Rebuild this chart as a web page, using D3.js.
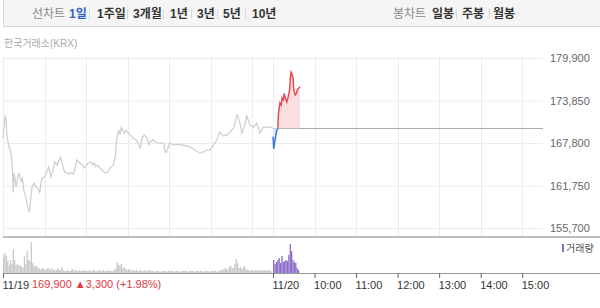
<!DOCTYPE html>
<html>
<head>
<meta charset="utf-8">
<script src="https://cdn.jsdelivr.net/npm/d3@7"></script>
<style>
  body { margin: 0; background: #fff; }
  svg { display: block; font-family: "Liberation Sans", "Noto Sans CJK KR", sans-serif; }
</style>
</head>
<body>
<div id="chart"></div>
<script>
// 가격 데이터 (분 단위 index: 11/19 09:00 = 0, 11/19 15:30 = 11/20 09:00 = 390)
var prevTimes = [0,3,4,6,9,11,13,15,16,19,21,23,26,28,30,33,35,38,40,42,45,47,50,53,56,60,63,66,69,72,75,78,80,83,86,89,92,95,98,102,
  105,107,111,115,117,121,123,127,130,132,134,137,140,143,147,151,155,159,162,164,167,169,171,175,178,181,184,188,192,195,198,
  201,204,208,211,212,217,222,227,232,234,236,241,246,251,260,270,277,285,289,294,299,304,309,313,318,323,328,333,338,340,342,
  345,350,352,357,362,366,369,371,376,386,390];
var prevPrices = [168500,171500,171650,168650,167100,166800,164950,160800,163550,161550,162800,163550,162250,162950,161100,160100,
  158950,157950,159700,161550,162100,161550,161400,160800,162800,162950,163650,164400,162950,163800,165100,164650,165100,165800,
  164650,163650,163550,163400,163550,163400,164650,165400,164950,164650,164250,164650,164950,165100,164650,164950,164400,164650,
  164250,163950,163550,163650,164250,164650,165800,168250,169650,168950,170050,169200,169650,169200,168950,168500,168250,167800,
  167100,168500,168950,168500,167500,167950,168250,167800,167800,167800,166500,166500,167800,167500,167650,167500,167250,166800,
  166350,166500,166800,166800,167500,168250,169350,168800,168950,169350,169950,171800,171350,170800,169200,170650,171650,170350,
  170050,170650,169950,169200,170050,170050,169900];

var todayTimes = [390,391,393,395,397,398,400,402,403,405,406,408,410,412,414,415,416,417,419,420,422,424,425,427,429];
var todayPrices = [168700,166950,168250,169400,169950,172050,173500,173200,174200,173950,174850,174200,173650,174400,175350,
  177050,177900,177700,177050,175350,174650,174900,175350,175600,175800];

// 거래량 (2분 단위, 천주)
var volPrev = [18,20,17,12,8,13,9,24,13,8,9,7,8,6,5,17,9,22,13,12,31,10,7,6,7,5,4,4,5,4,3,4,5,4,3,5,3,3,3,5,3,3,6,3,2,
  2,3,2,2,3,4,2,3,2,2,3,2,2,3,2,2,2,3,2,2,3,2,2,2,3,2,2,3,2,2,2,3,2,2,2,
  3,5,11,8,7,9,5,6,4,3,4,3,3,2,3,2,3,2,2,3,2,2,3,2,2,3,2,
  2,2,1,2,2,2,1,2,2,2,2,1,2,2,2,2,1,2,2,2,1,2,2,2,2,2,1,2,2,2,2,1,2,2,2,2,2,1,2,2,2,2,1,2,2,2,2,1,2,2,
  3,4,3,5,4,3,6,7,5,5,9,14,10,5,6,4,5,7,4,3,3,2,3,3,2,3,3,2,3,3,2,3,3,2,3,3,2];
var volToday = [13,9,11,13,15,10,17,11,12,13,12,18,29,22,13,11,10,5,3];

var yTicks = [155700, 161750, 167800, 173850, 179900];
var gridTimes = [0,60,120,180,240,300,360,390,450,510,570,630,690,750];
var xTickTimes = [0,390,450,510,570,630,690,750];
var xTickLabels = ["11/19","11/20","10:00","11:00","12:00","13:00","14:00","15:00"];

var prevClose = 169900, prevChange = 3300, prevRate = 1.98;

var periodTabs = ["1일","1주일","3개월","1년","3년","5년","10년"];
var periodX = [69,97,133,170,197,223,252];
var candleTabs = ["일봉","주봉","월봉"];
var candleX = [432,462,493];

var W = 600, H = 308;
var svg = d3.select("#chart").append("svg").attr("width", W).attr("height", H);

// 상단 탭
svg.append("rect").attr("x", 3.5).attr("y", -1).attr("width", 600).attr("height", 27.5)
  .attr("fill", "#f5f5f5").attr("stroke", "#d6d6d6");
svg.append("text").attr("x", 32).attr("y", 18).attr("font-size", 12).attr("fill", "#888").text("선차트");
svg.selectAll(".ptab").data(periodTabs).enter().append("text")
  .attr("x", function(d, i) { return periodX[i]; }).attr("y", 18)
  .attr("font-size", 12).attr("font-weight", "bold")
  .attr("fill", function(d, i) { return i === 0 ? "#3462c9" : "#333"; })
  .text(function(d) { return d; });
[89,127,163,191,217,245,456,489].forEach(function(sx) {
  svg.append("line").attr("x1", sx + 0.5).attr("x2", sx + 0.5).attr("y1", 9).attr("y2", 19).attr("stroke", "#d8d8d8");
});
svg.append("text").attr("x", 393).attr("y", 18).attr("font-size", 12).attr("fill", "#888").text("봉차트");
svg.selectAll(".ctab").data(candleTabs).enter().append("text")
  .attr("x", function(d, i) { return candleX[i]; }).attr("y", 18)
  .attr("font-size", 12).attr("font-weight", "bold").attr("fill", "#333")
  .text(function(d) { return d; });

svg.append("text").attr("x", 4).attr("y", 47).attr("font-size", 10).attr("fill", "#aaa").text("한국거래소(KRX)");

// scales
var x = d3.scaleLinear().domain([0, 780]).range([3, 543]);
var y = d3.scaleLinear().domain([155700, 179900]).range([228, 58]);
var yv = d3.scaleLinear().domain([0, d3.max(volPrev.concat(volToday))]).range([273, 242]);

// grid
svg.append("g").selectAll("line").data(gridTimes).enter().append("line")
  .attr("x1", function(d) { return Math.round(x(d)) + 0.5; })
  .attr("x2", function(d) { return Math.round(x(d)) + 0.5; })
  .attr("y1", 57).attr("y2", 236).attr("stroke", "#ececec");

var yAxis = svg.append("g").attr("transform", "translate(543,0)")
  .call(d3.axisRight(y).tickValues(yTicks).tickSize(-540).tickPadding(7).tickFormat(d3.format(",")));
yAxis.select(".domain").remove();
yAxis.selectAll("line").attr("stroke", "#ececec");
yAxis.selectAll("text").attr("fill", "#666").attr("font-size", 11);

// 전일 라인
var prevData = prevTimes.map(function(t, i) { return {t: t, p: prevPrices[i]}; });
var todayData = todayTimes.map(function(t, i) { return {t: t, p: todayPrices[i]}; });

var line = d3.line().x(function(d) { return x(d.t); }).y(function(d) { return y(d.p); });
var area = d3.area().x(function(d) { return x(d.t); }).y0(y(prevClose)).y1(function(d) { return y(d.p); });

svg.append("path").datum(prevData).attr("d", line)
  .attr("fill", "none").attr("stroke", "#cdcdcd").attr("stroke-width", 1.2);

// 기준선 (전일 종가)
svg.append("line").attr("x1", x(390)).attr("x2", x(780))
  .attr("y1", Math.round(y(prevClose)) + 0.5).attr("y2", Math.round(y(prevClose)) + 0.5)
  .attr("stroke", "#aaa");

var defs = svg.append("defs");
defs.append("clipPath").attr("id", "above").append("rect")
  .attr("x", 0).attr("y", 0).attr("width", W).attr("height", y(prevClose));
defs.append("clipPath").attr("id", "below").append("rect")
  .attr("x", 0).attr("y", y(prevClose)).attr("width", W).attr("height", H);

svg.append("path").datum(todayData).attr("d", area).attr("fill", "#fbdedf").attr("clip-path", "url(#above)");
svg.append("path").datum(todayData).attr("d", area).attr("fill", "#dbe7f8").attr("clip-path", "url(#below)");
svg.append("path").datum(todayData).attr("d", line).attr("fill", "none")
  .attr("stroke", "#e64a50").attr("stroke-width", 1.5).attr("clip-path", "url(#above)");
svg.append("path").datum(todayData).attr("d", line).attr("fill", "none")
  .attr("stroke", "#3f7ad6").attr("stroke-width", 1.5).attr("clip-path", "url(#below)");

// 구분선
svg.append("line").attr("x1", 3).attr("x2", 600).attr("y1", 237).attr("y2", 237)
  .attr("stroke", "#a8a8a8").attr("stroke-width", 1.5);

// 거래량
svg.append("g").selectAll("rect").data(volPrev).enter().append("rect")
  .attr("x", function(d, i) { return x(i * 2); })
  .attr("width", 1.3)
  .attr("y", function(d) { return yv(d); })
  .attr("height", function(d) { return yv(0) - yv(d); })
  .attr("fill", "#c9c9c9");
svg.append("g").selectAll("rect").data(volToday).enter().append("rect")
  .attr("x", function(d, i) { return x(390 + i * 2); })
  .attr("width", 1.3)
  .attr("y", function(d) { return yv(d); })
  .attr("height", function(d) { return yv(0) - yv(d); })
  .attr("fill", "#8c6cc8");

svg.append("rect").attr("x", 562).attr("y", 244).attr("width", 2).attr("height", 8).attr("fill", "#8c6cc8");
svg.append("text").attr("x", 566).attr("y", 251.5).attr("font-size", 10).attr("fill", "#555").text("거래량");

// x축
svg.append("line").attr("x1", 3).attr("x2", 600).attr("y1", 273.5).attr("y2", 273.5).attr("stroke", "#999");
var xAxis = svg.append("g").attr("transform", "translate(0,273)")
  .call(d3.axisBottom(x).tickValues(xTickTimes).tickSize(5).tickPadding(3)
    .tickFormat(function(d, i) { return xTickLabels[i]; }));
xAxis.select(".domain").remove();
xAxis.selectAll("line").attr("stroke", "#666");
xAxis.selectAll("text").attr("text-anchor", "start").attr("dx", -1)
  .attr("fill", "#333").attr("font-size", 11);

svg.append("text").attr("x", 32).attr("y", 288).attr("font-size", 11).attr("fill", "#e0393e")
  .text(d3.format(",")(prevClose) + " ▲" + d3.format(",")(prevChange) + " (+" + prevRate.toFixed(2) + "%)");
</script>
</body>
</html>
